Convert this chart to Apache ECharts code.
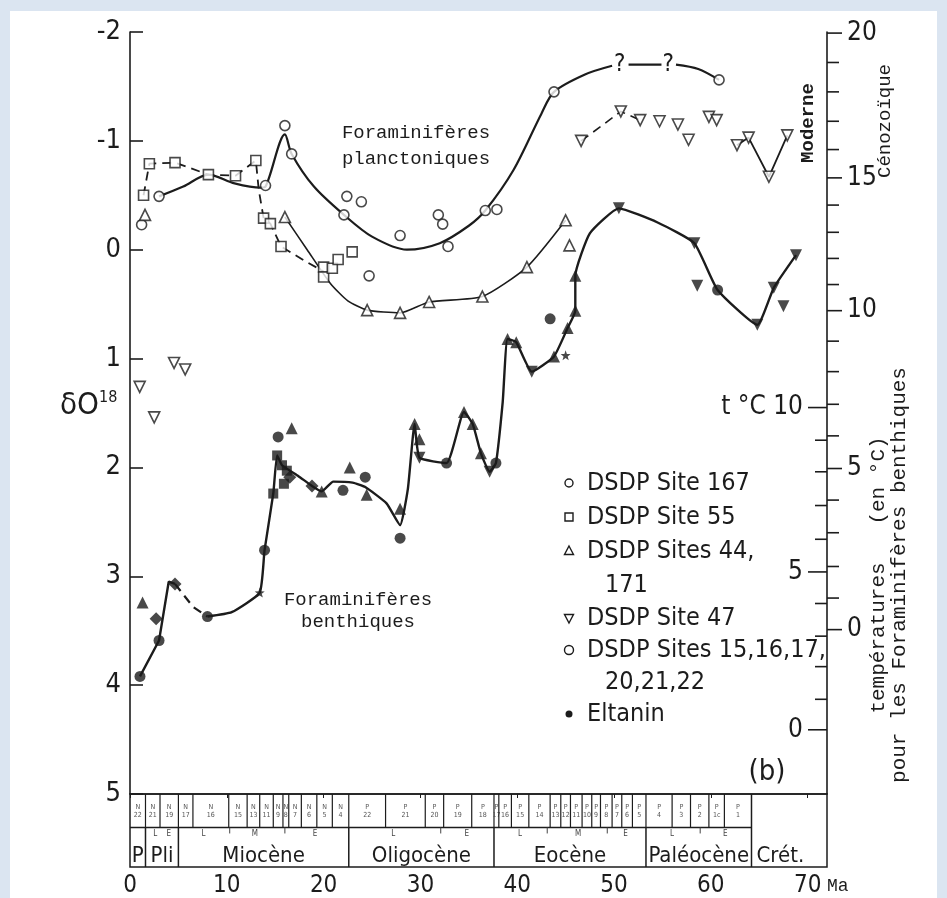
<!DOCTYPE html>
<html>
<head>
<meta charset="utf-8">
<script src="https://cdn.jsdelivr.net/npm/echarts@6/dist/echarts.min.js"></script>
<style>
  html, body { margin: 0; padding: 0; background: #dbe5f1; }
  #paper { position: absolute; left: 10px; top: 11px; width: 927px; height: 887px; background: #fff; }
  #chart { position: absolute; left: 0; top: 0; width: 947px; height: 898px; }
</style>
</head>
<body>
<div id="paper"></div>
<div id="chart"></div>
<script>
// ---- data (age in Ma, delta O18 in permil) ----
const AGE_MAX = 72;

// planktonic foraminifera, open symbols
const plank167 = [[1.2,-0.23],[3.0,-0.49],[14.0,-0.59],[16.0,-1.14],[16.7,-0.88],[22.1,-0.32],[22.4,-0.49],[23.9,-0.44],[24.7,0.24],[27.9,-0.13],[31.85,-0.32],[32.3,-0.235],[32.85,-0.03],[36.7,-0.36],[37.9,-0.37],[43.8,-1.45],[60.85,-1.56]];
const plank55 = [[1.4,-0.5],[2.0,-0.79],[4.65,-0.80],[8.1,-0.69],[10.9,-0.68],[13.0,-0.82],[13.8,-0.29],[14.5,-0.24],[15.6,-0.03],[20.0,0.16],[20.0,0.25],[20.9,0.17],[21.5,0.09],[22.95,0.02]];
const plank44 = [[1.55,-0.32],[16.0,-0.30],[24.5,0.555],[27.9,0.58],[30.9,0.48],[36.4,0.43],[41.0,0.16],[45.0,-0.27],[45.4,-0.04]];
const plank47 = [[1.0,1.26],[2.5,1.54],[4.55,1.04],[5.7,1.10],[46.6,-1.0],[50.7,-1.27],[52.7,-1.19],[54.7,-1.18],[56.6,-1.15],[57.7,-1.01],[59.8,-1.22],[60.6,-1.19],[62.7,-0.96],[63.9,-1.03],[66.0,-0.67],[67.9,-1.05]];

// drawn curves through the planktonic values
const plankCurve = [[3.0,-0.49],[5.5,-0.58],[8.1,-0.69],[10.8,-0.61],[13.5,-0.57],[14.0,-0.58],[16.0,-1.06],[16.7,-0.88],[19.0,-0.58],[22.1,-0.32],[25.0,-0.12],[28.6,0.0],[32.0,-0.06],[35.0,-0.22],[36.7,-0.36],[39.6,-0.73],[42.5,-1.25],[43.8,-1.45],[47.0,-1.61],[49.8,-1.69],'-',[51.5,-1.70],[54.9,-1.70],'-',[56.4,-1.70],[58.7,-1.66],[60.85,-1.56]];
const curve55 = [[1.4,-0.5],[2.0,-0.79],[4.65,-0.80],[8.1,-0.69],[10.9,-0.68],[13.0,-0.82],[13.3,-0.55],[13.8,-0.29],[14.5,-0.24],[15.6,-0.03],[18.0,0.1],[20.0,0.2]];
const curve44 = [[16.0,-0.30],[18.3,0.0],[20.7,0.31],[22.5,0.47],[24.5,0.555],[27.9,0.58],[30.9,0.48],[36.4,0.43],[41.0,0.16],[45.0,-0.27]];
const curve47a = [[46.6,-1.0],[48.6,-1.13],[50.7,-1.27],[52.7,-1.19]];
const curve47b = [[62.7,-0.96],[63.9,-1.03],[66.0,-0.67],[67.9,-1.05]];
const questionMarks = [[50.6,-1.70],[55.6,-1.70]];

// benthic foraminifera, filled symbols
const benthCircle = [[1.03,3.92],[3.0,3.59],[8.0,3.37],[13.9,2.76],[15.3,1.72],[22.0,2.21],[24.3,2.09],[27.9,2.65],[32.7,1.96],[37.8,1.96],[43.4,0.635],[60.7,0.37]];
const benthTri = [[1.3,3.24],[16.7,1.64],[19.8,2.22],[22.7,2.0],[24.45,2.25],[27.9,2.38],[29.4,1.60],[29.9,1.74],[34.5,1.49],[35.4,1.60],[36.25,1.87],[39.0,0.82],[39.9,0.85],[43.8,0.98],[45.2,0.72],[46.0,0.56],[46.0,0.24]];
const benthDownTri = [[29.9,1.91],[37.15,2.04],[41.5,1.12],[50.5,-0.38],[58.3,-0.06],[58.6,0.33],[64.8,0.69],[66.5,0.35],[67.5,0.52],[68.8,0.05]];
const benthSquare = [[14.8,2.24],[15.2,1.89],[15.7,1.98],[16.2,2.03],[15.9,2.15]];
const benthDiamond = [[2.7,3.39],[4.65,3.07],[18.8,2.17],[16.5,2.09]];
const eltanin = [[13.4,3.15],[45.0,0.97]];

const benthCurveA = [[1.03,3.92],[3.0,3.59],[4.0,3.05],[4.65,3.07]];
const benthCurveB = [[4.65,3.07],[6.5,3.28],[8.0,3.37]];
const benthCurveC = [[8.0,3.37],[10.5,3.33],[13.4,3.15],[13.9,2.76],[14.8,2.24],[15.2,1.89],[15.7,1.98],[17.4,2.08],[18.8,2.17],[19.8,2.22],[21.0,2.13],[23.0,2.14],[24.3,2.18],[26.5,2.33],[27.9,2.53],[28.7,2.2],[29.4,1.60],[29.9,1.91],[32.7,1.96],[34.5,1.49],[35.4,1.60],[36.25,1.87],[37.15,2.04],[37.8,1.96],[38.5,1.4],[39.0,0.82],[39.9,0.85],[41.5,1.12],[43.8,0.98],[45.2,0.72],[46.0,0.56],[46.0,0.24],[47.5,-0.15],[50.5,-0.38],[54.5,-0.25],[58.3,-0.06],[60.7,0.37],[64.8,0.69],[66.5,0.35],[68.8,0.05]];

// temperature scales on the right (degC and their delta O18 position)
const upperTempTicks = [20,19,18,17,16,15,14,13,12,11,10,9,8,7,6,5,4,3,2,1,0];
const upperTempDelta = [-1.99,-1.72,-1.45,-1.18,-0.92,-0.66,-0.41,-0.16,0.08,0.32,0.56,0.84,1.12,1.42,1.71,2.01,2.30,2.60,2.91,3.20,3.49];
const lowerTempTicks = [10,9,8,7,6,5,4,3,2,1,0];
const lowerTempDelta = [1.45,1.75,2.04,2.35,2.66,2.96,3.25,3.55,3.83,4.13,4.41];

// chronostratigraphy
const epochEdges = [0,1.6,5.0,22.6,37.6,53.3,64.2,72];
const epochNames = ['P','Pli','Miocène','Oligocène','Eocène','Paléocène','Crét.'];
const zoneEdges = [0,1.6,3.1,5.0,6.5,10.2,12.1,13.4,14.8,15.8,16.4,17.7,19.3,20.9,22.6,26.4,30.5,32.4,35.3,37.6,38.1,39.4,41.2,43.4,44.5,45.5,46.7,47.7,48.6,49.8,50.8,51.9,53.3,56.0,57.9,59.8,61.4,64.2];
const zoneCodes = ['N22','N21','N19','N17','N16','N15','N13','N11','N9','N8','N7','N6','N5','N4','P22','P21','P20','P19','P18','P17','P16','P15','P14','P13','P12','P11','P10','P9','P8','P7','P6','P5','P4','P3','P2','P1c','P1'];
const subEpochAges = [2.6,4.0,7.6,12.9,19.1,27.2,34.8,40.3,46.3,51.2,56.0,61.5];
const subEpochLetters = ['L','E','L','M','E','L','E','L','M','E','L','E'];
const subEpochTicks = [10.3,16.0,32.1,43.1,49.3,58.9];

const legendLabels = [['DSDP Site 167'],['DSDP Site 55'],['DSDP Sites 44,','171'],['DSDP Site 47'],['DSDP Sites 15,16,17,','20,21,22'],['Eltanin']];
const legendSymbols = ['circle','rect','triangle','downTriangle','circle','dot'];

// ---- chart ----
const INK = '#1c1c1c';
const SANS = '"Liberation Sans Narrow", "DejaVu Sans Condensed", sans-serif';
const MONO = '"Liberation Mono", "DejaVu Sans Mono", monospace';
const STAR = 'path://M0,-10L2.4,-3.3L9.5,-3.1L3.9,1.3L5.9,8.1L0,4.1L-5.9,8.1L-3.9,1.3L-9.5,-3.1L-2.4,-3.3Z';

const chart = echarts.init(document.getElementById('chart'));

function openPts(name, data, symbol, rotate, size) {
  return {
    type: 'scatter', name, data, symbol, symbolRotate: rotate || 0, symbolSize: size || 10,
    itemStyle: { color: '#fff', borderColor: INK, borderWidth: 1.6 }, z: 6, silent: true
  };
}
function fullPts(name, data, symbol, rotate, size) {
  return {
    type: 'scatter', name, data, symbol, symbolRotate: rotate || 0, symbolSize: size || 10,
    itemStyle: { color: INK }, z: 6, silent: true
  };
}
function curve(data, width, dash, smooth) {
  return {
    type: 'line', data, showSymbol: false, symbol: 'none', smooth: smooth || false,
    connectNulls: false, silent: true, z: 3,
    lineStyle: { color: INK, width, type: dash ? [9, 6] : 'solid' }
  };
}

function rightTicks(ticks, deltas, side) {
  return {
    type: 'custom', xAxisIndex: 0, yAxisIndex: 0, silent: true, clip: false, z: 4,
    data: ticks.map((t, i) => [AGE_MAX, deltas[i], t]),
    renderItem: (params, api) => {
      const p = api.coord([api.value(0), api.value(1)]);
      const t = api.value(2);
      const major = t % 5 === 0;
      const dir = side === 'right' ? 1 : -1;
      const len = major ? (side === 'right' ? 15 : 19) : 12;
      const children = [{
        type: 'line',
        shape: { x1: p[0], y1: p[1], x2: p[0] + dir * len, y2: p[1] },
        style: { stroke: INK, lineWidth: 1.6 }
      }];
      if (major) {
        const txt = (side === 'left' && t === 10) ? 't °C 10' : String(t);
        children.push({
          type: 'text', x: p[0] + dir * (len + 5), y: p[1],
          style: { text: txt, fill: INK, font: '26px ' + SANS, align: side === 'right' ? 'left' : 'right', verticalAlign: 'middle' }
        });
      }
      return { type: 'group', children };
    }
  };
}

const ROW_SPLIT = 34, BOX_H = 74;

const series = [
  curve(plankCurve, 2.2, false, 0.3),
  curve(curve55, 1.8, true, false),
  curve(curve44, 1.6, false, 0.2),
  curve(curve47a, 1.6, true, false),
  curve(curve47b, 1.8, false, false),
  curve(benthCurveA, 2.4, false, false),
  curve(benthCurveB, 2.2, true, false),
  curve(benthCurveC, 2.4, false, 0.15),
  openPts('DSDP Site 167', plank167, 'circle', 0, 10),
  openPts('DSDP Site 55', plank55, 'rect', 0, 10),
  openPts('DSDP Sites 44, 171', plank44, 'triangle', 0, 11),
  openPts('DSDP Site 47', plank47, 'triangle', 180, 11),
  fullPts('b circles', benthCircle, 'circle', 0, 11),
  fullPts('b triangles', benthTri, 'triangle', 0, 12),
  fullPts('b down triangles', benthDownTri, 'triangle', 180, 12),
  fullPts('b squares', benthSquare, 'rect', 0, 10),
  fullPts('b diamonds', benthDiamond, 'diamond', 0, 13),
  fullPts('Eltanin', eltanin, STAR, 0, 10),
  {
    type: 'custom', silent: true, z: 5, data: questionMarks,
    renderItem: (params, api) => {
      const p = api.coord([api.value(0), api.value(1)]);
      return { type: 'text', x: p[0], y: p[1], style: { text: '?', font: '24px ' + SANS, fill: INK, align: 'center', verticalAlign: 'middle' } };
    }
  },
  rightTicks(upperTempTicks, upperTempDelta, 'right'),
  rightTicks(lowerTempTicks, lowerTempDelta, 'left'),
  // epochs row
  {
    type: 'custom', xAxisIndex: 1, yAxisIndex: 2, silent: true, clip: false,
    data: epochNames.map((n, i) => [epochEdges[i], epochEdges[i + 1], i]),
    renderItem: (params, api) => {
      const i = api.value(2);
      const a = api.coord([api.value(0), ROW_SPLIT]);
      const b = api.coord([api.value(1), BOX_H]);
      const last = i === epochNames.length - 1;
      const top = last ? api.coord([api.value(0), 0])[1] : a[1];
      const children = [];
      if (api.value(0) > 0) {
        children.push({ type: 'line', shape: { x1: a[0], y1: top, x2: a[0], y2: b[1] }, style: { stroke: INK, lineWidth: 1.5 } });
      }
      children.push({
        type: 'text', x: last ? a[0] + 5 : (a[0] + b[0]) / 2, y: b[1] - 11,
        style: { text: epochNames[i], font: '22px ' + SANS, fill: INK, align: last ? 'left' : 'center', verticalAlign: 'middle' }
      });
      return { type: 'group', children };
    }
  },
  // zones row
  {
    type: 'custom', xAxisIndex: 1, yAxisIndex: 2, silent: true, clip: false,
    data: zoneCodes.map((c, i) => [zoneEdges[i], zoneEdges[i + 1], i]),
    renderItem: (params, api) => {
      const i = api.value(2);
      const a = api.coord([api.value(0), 0]);
      const b = api.coord([api.value(1), ROW_SPLIT]);
      const children = [];
      if (api.value(0) > 0) {
        children.push({ type: 'line', shape: { x1: a[0], y1: a[1], x2: a[0], y2: b[1] }, style: { stroke: INK, lineWidth: 1.2 } });
      }
      if (i === 0) {
        children.push({ type: 'line', shape: { x1: a[0], y1: b[1], x2: api.coord([epochEdges[epochEdges.length - 2], 0])[0], y2: b[1] }, style: { stroke: INK, lineWidth: 1.5 } });
      }
      const code = zoneCodes[i];
      children.push({
        type: 'text', x: (a[0] + b[0]) / 2, y: (a[1] + b[1]) / 2,
        style: { text: code.charAt(0) + '\n' + code.slice(1), font: '7px ' + SANS, fill: '#555', align: 'center', verticalAlign: 'middle', lineHeight: 8 }
      });
      return { type: 'group', children };
    }
  },
  // sub-epoch letters and ticks
  {
    type: 'custom', xAxisIndex: 1, yAxisIndex: 2, silent: true, clip: false,
    data: subEpochAges.map((x, i) => [x, i]),
    renderItem: (params, api) => {
      const p = api.coord([api.value(0), ROW_SPLIT + 6]);
      return { type: 'text', x: p[0], y: p[1], style: { text: subEpochLetters[api.value(1)], font: '8px ' + SANS, fill: '#444', align: 'center', verticalAlign: 'middle' } };
    }
  },
  {
    type: 'custom', xAxisIndex: 1, yAxisIndex: 2, silent: true, clip: false,
    data: subEpochTicks.map(x => [x]),
    renderItem: (params, api) => {
      const a = api.coord([api.value(0), ROW_SPLIT]);
      const b = api.coord([api.value(0), ROW_SPLIT + 6]);
      return { type: 'line', shape: { x1: a[0], y1: a[1], x2: b[0], y2: b[1] }, style: { stroke: '#444', lineWidth: 1 } };
    }
  }
];

// legend drawn as graphic
const legendRowY = [483, 517, 551, 585, 618, 650, 682, 714];
const legendGraphics = [];
let row = 0;
legendLabels.forEach((lines, k) => {
  const y = legendRowY[row];
  const x = 569;
  const sym = legendSymbols[k];
  if (sym === 'circle') legendGraphics.push({ type: 'circle', shape: { cx: x, cy: y, r: k === 4 ? 4.5 : 4 }, style: { fill: '#fff', stroke: INK, lineWidth: 1.4 } });
  if (sym === 'rect') legendGraphics.push({ type: 'rect', shape: { x: x - 4, y: y - 4, width: 8, height: 8 }, style: { fill: '#fff', stroke: INK, lineWidth: 1.4 } });
  if (sym === 'triangle') legendGraphics.push({ type: 'polygon', shape: { points: [[x, y - 5], [x + 4.5, y + 3.5], [x - 4.5, y + 3.5]] }, style: { fill: '#fff', stroke: INK, lineWidth: 1.4 } });
  if (sym === 'downTriangle') legendGraphics.push({ type: 'polygon', shape: { points: [[x, y + 5], [x + 4.5, y - 3.5], [x - 4.5, y - 3.5]] }, style: { fill: '#fff', stroke: INK, lineWidth: 1.4 } });
  if (sym === 'dot') legendGraphics.push({ type: 'circle', shape: { cx: x, cy: y, r: 3.5 }, style: { fill: INK } });
  lines.forEach((t, j) => {
    legendGraphics.push({
      type: 'text', x: j === 0 ? 587 : 605, y: legendRowY[row + j],
      style: { text: t, font: '25px ' + SANS, fill: INK, verticalAlign: 'middle' }
    });
  });
  row += lines.length;
});

const option = {
  animation: false,
  grid: [
    { left: 130, top: 32, width: 697, height: 762 },
    { left: 130, top: 794, width: 697, height: 74, show: true, borderColor: INK, borderWidth: 1.5, backgroundColor: 'transparent' }
  ],
  xAxis: [
    { gridIndex: 0, type: 'value', min: 0, max: AGE_MAX, show: false },
    {
      gridIndex: 1, type: 'value', min: 0, max: AGE_MAX, interval: 10,
      axisLine: { lineStyle: { color: INK, width: 1.5 } },
      axisTick: { show: true, length: 4, lineStyle: { color: INK } },
      axisLabel: { color: INK, fontSize: 24, fontFamily: SANS, margin: 7, showMaxLabel: false, formatter: v => (v % 10 === 0 ? String(v) : '') },
      splitLine: { show: false }
    }
  ],
  yAxis: [
    {
      gridIndex: 0, type: 'value', min: -2, max: 5, interval: 1, inverse: true, position: 'left',
      axisLine: { show: true, lineStyle: { color: INK, width: 1.6 } },
      axisTick: { show: true, inside: true, length: 13, lineStyle: { color: INK, width: 1.6 } },
      axisLabel: { color: INK, fontSize: 27, fontFamily: SANS, margin: 9 },
      splitLine: { show: false }
    },
    {
      gridIndex: 0, type: 'value', min: -2, max: 5, inverse: true, position: 'right',
      axisLine: { show: true, lineStyle: { color: INK, width: 1.6 } },
      axisTick: { show: false }, axisLabel: { show: false }, splitLine: { show: false }
    },
    { gridIndex: 1, type: 'value', min: 0, max: BOX_H, inverse: true, show: false }
  ],
  graphic: [
    {
      type: 'text', left: 60, top: 390,
      style: {
        text: '{a|δO}{b|18}',
        rich: { a: { font: '31px ' + SANS, fill: INK }, b: { font: '16px ' + SANS, fill: INK, verticalAlign: 'top' } }
      }
    },
    { type: 'text', x: 416, y: 133, style: { text: 'Foraminifères', font: '19px ' + MONO, fill: INK, align: 'center', verticalAlign: 'middle' } },
    { type: 'text', x: 416, y: 159, style: { text: 'planctoniques', font: '19px ' + MONO, fill: INK, align: 'center', verticalAlign: 'middle' } },
    { type: 'text', x: 358, y: 600, style: { text: 'Foraminifères', font: '19px ' + MONO, fill: INK, align: 'center', verticalAlign: 'middle' } },
    { type: 'text', x: 358, y: 622, style: { text: 'benthiques', font: '19px ' + MONO, fill: INK, align: 'center', verticalAlign: 'middle' } },
    { type: 'text', x: 808, y: 123, rotation: Math.PI / 2, style: { text: 'Moderne', font: 'bold 19px ' + MONO, fill: INK, align: 'center', verticalAlign: 'middle' } },
    { type: 'text', x: 885, y: 121, rotation: Math.PI / 2, style: { text: 'Cénozoïque', font: '19px ' + MONO, fill: INK, align: 'center', verticalAlign: 'middle' } },
    { type: 'text', x: 878, y: 575, rotation: Math.PI / 2, style: { text: 'températures   (en °C)', font: '21px ' + MONO, fill: INK, align: 'center', verticalAlign: 'middle' } },
    { type: 'text', x: 899, y: 575, rotation: Math.PI / 2, style: { text: 'pour les Foraminifères benthiques', font: '21px ' + MONO, fill: INK, align: 'center', verticalAlign: 'middle' } },
    { type: 'text', x: 767, y: 772, style: { text: '(b)', font: '29px ' + SANS, fill: INK, align: 'center', verticalAlign: 'middle' } },
    { type: 'text', x: 827, y: 886, style: { text: 'Ma', font: '18px ' + MONO, fill: INK, align: 'left', verticalAlign: 'middle' } }
  ].concat(legendGraphics),
  series
};

chart.setOption(option);
window.addEventListener('resize', () => chart.resize());
</script>
</body>
</html>
